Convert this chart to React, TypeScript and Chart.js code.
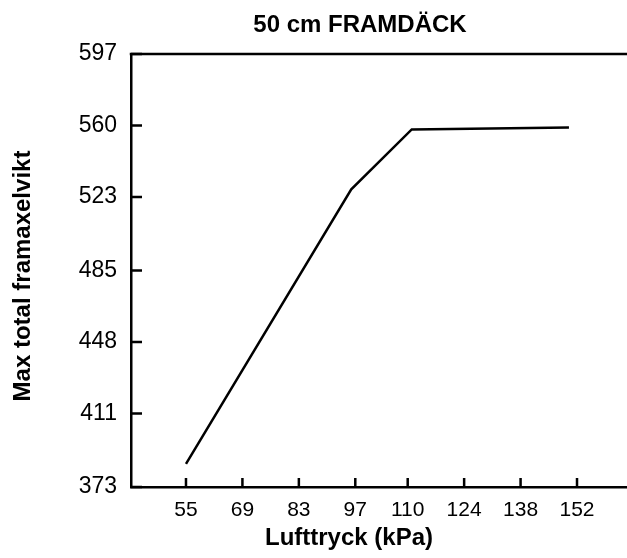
import { useEffect, useRef } from 'react';
import { Chart, registerables } from 'chart.js';

Chart.register(...registerables);

const chartTitle = '50 cm FRAMDÄCK';
const xTitle = 'Lufttryck (kPa)';
const yTitle = 'Max total framaxelvikt';
const xTickValues = [55, 69, 83, 97, 110, 124, 138, 152];
const yTickValues = [373, 411, 448, 485, 523, 560, 597];
const pressures = [55, 96, 111, 150];
const loads = [385, 527, 558, 559];

const FONT = '"Liberation Sans", Arial, Helvetica, sans-serif';

const decor = {
  id: 'decor',
  afterDraw(chart: any) {
    const { ctx, chartArea: a, scales } = chart;
    ctx.save();
    ctx.strokeStyle = '#000';
    ctx.lineWidth = 2.5;
    ctx.lineCap = 'butt';
    ctx.beginPath();
    ctx.moveTo(a.left - 1.25, a.top);
    ctx.lineTo(a.right, a.top);
    ctx.stroke();
    ctx.beginPath();
    scales.x.ticks.forEach((t: any) => {
      const px = scales.x.getPixelForValue(t.value);
      ctx.moveTo(px, a.bottom);
      ctx.lineTo(px, a.bottom - 9);
    });
    scales.y.ticks.forEach((t: any) => {
      const py = scales.y.getPixelForValue(t.value);
      ctx.moveTo(a.left, py);
      ctx.lineTo(a.left + 11, py);
    });
    ctx.stroke();
    ctx.fillStyle = '#000';
    ctx.textAlign = 'center';
    ctx.textBaseline = 'middle';
    ctx.font = `bold 24px ${FONT}`;
    ctx.fillText(chartTitle, 360, 25);
    ctx.fillText(xTitle, 349, 538);
    ctx.translate(23, 276);
    ctx.rotate(-Math.PI / 2);
    ctx.fillText(yTitle, 0, 0);
    ctx.restore();
  },
};

export default function App() {
  const ref = useRef<HTMLCanvasElement>(null);
  useEffect(() => {
    const chart = new Chart(ref.current!, {
      type: 'line',
      data: {
        datasets: [
          {
            data: pressures.map((p, i) => ({ x: p, y: loads[i] })),
            borderColor: '#000',
            borderWidth: 2.5,
            pointRadius: 0,
            tension: 0,
            fill: false,
          },
        ],
      },
      options: {
        animation: false,
        responsive: true,
        maintainAspectRatio: false,
        layout: { padding: { top: 54, left: 0, right: 0, bottom: 0 } },
        plugins: { legend: { display: false }, tooltip: { enabled: false }, title: { display: false } },
        scales: {
          x: {
            type: 'linear',
            min: 41.36,
            max: 164.4,
            afterBuildTicks: (s: any) => {
              s.ticks = xTickValues.map((v) => ({ value: v }));
            },
            afterFit: (s: any) => {
              s.height = 71;
            },
            grid: { display: false, drawTicks: false },
            border: { display: true, color: '#000', width: 2.5 },
            ticks: {
              color: '#000',
              font: { family: FONT, size: 21 },
              padding: 11,
              maxRotation: 0,
              autoSkip: false,
            },
          },
          y: {
            type: 'linear',
            min: 373,
            max: 597,
            afterBuildTicks: (s: any) => {
              s.ticks = yTickValues.map((v) => ({ value: v }));
            },
            afterFit: (s: any) => {
              s.width = 131;
            },
            grid: { display: false, drawTicks: false },
            border: { display: true, color: '#000', width: 2.5 },
            ticks: {
              color: '#000',
              font: { family: FONT, size: 23 },
              padding: 14,
              autoSkip: false,
            },
          },
        },
      },
      plugins: [decor],
    });
    return () => chart.destroy();
  }, []);
  return (
    <div style={{ position: 'fixed', left: 0, top: 0, width: 627, height: 558, background: '#fff' }}>
      <canvas ref={ref} />
    </div>
  );
}
